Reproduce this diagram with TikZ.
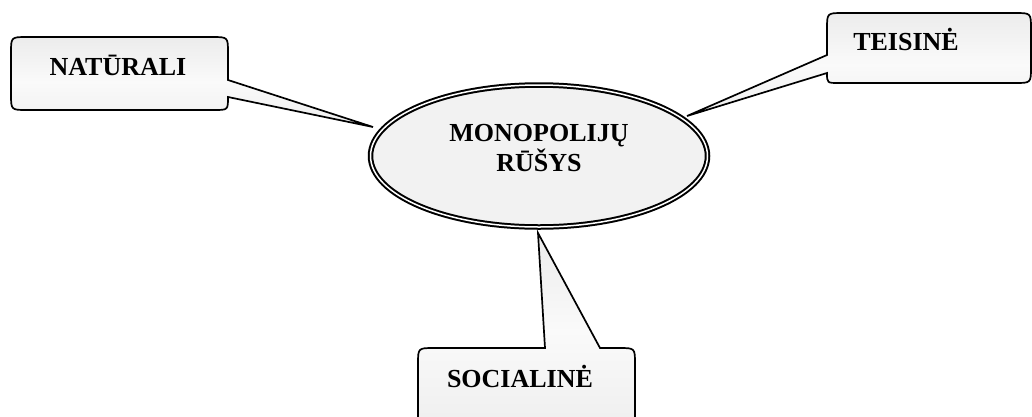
\documentclass[tikz,border=0pt]{standalone}
\usepackage{fontspec}
\setmainfont{Liberation Serif}
\usetikzlibrary{shapes.geometric}

\tikzset{
  callout/.style={draw=black, line width=1.7pt, line join=miter,
    top color=gray!15, bottom color=gray!13, middle color=gray!4},
  hub/.style={ellipse, draw=black, line width=2pt, double=white,
    double distance=1.5pt, fill=gray!10, inner sep=0pt,
    minimum width=337pt, minimum height=142pt},
  label/.style={font=\bfseries\fontsize{26}{30}\selectfont, inner sep=0pt}
}

\begin{document}
\begin{tikzpicture}[x=1pt, y=-1pt]
\useasboundingbox (0,0) rectangle (1032,416);

% central ellipse and its title
\node[hub] (mono) at (539,156) {};
\node[label, align=center] (monotext) at (539,148.5) {MONOPOLIJŲ\\RŪŠYS};

% tips of the three callout tails, on the ellipse rim
\coordinate (tipN) at (373,127);
\coordinate (tipT) at (687,116);
\coordinate (tipS) at (538,233);

% left callout
\path[callout] (11,53) .. controls (11,37) .. (27,37) -- (212,37)
  .. controls (228,37) .. (228,53) -- (228,80) -- (tipN) -- (228,97)
  .. controls (228,110) .. (214,110) -- (27,110)
  .. controls (11,110) .. (11,94) -- cycle;
\node[label, anchor=base] (natur) at (118,75) {NATŪRALI};

% right callout
\path[callout] (843,13) -- (1015,13) .. controls (1031,13) .. (1031,29)
  -- (1031,67) .. controls (1031,83) .. (1015,83) -- (839,83)
  .. controls (827,83) .. (827,73) -- (tipT) -- (827,55) -- (827,29)
  .. controls (827,13) .. (843,13) -- cycle;
\node[label, anchor=base] (teis) at (906,50) {TEISINĖ};

% bottom callout
\path[callout] (418,364) .. controls (418,348) .. (434,348) -- (545,348)
  -- (tipS) -- (600,348) -- (619,348) .. controls (635,348) .. (635,364)
  -- (635,430) -- (418,430) -- cycle;
\node[label, anchor=base] (soc) at (520,387) {SOCIALINĖ};
\end{tikzpicture}
\end{document}
